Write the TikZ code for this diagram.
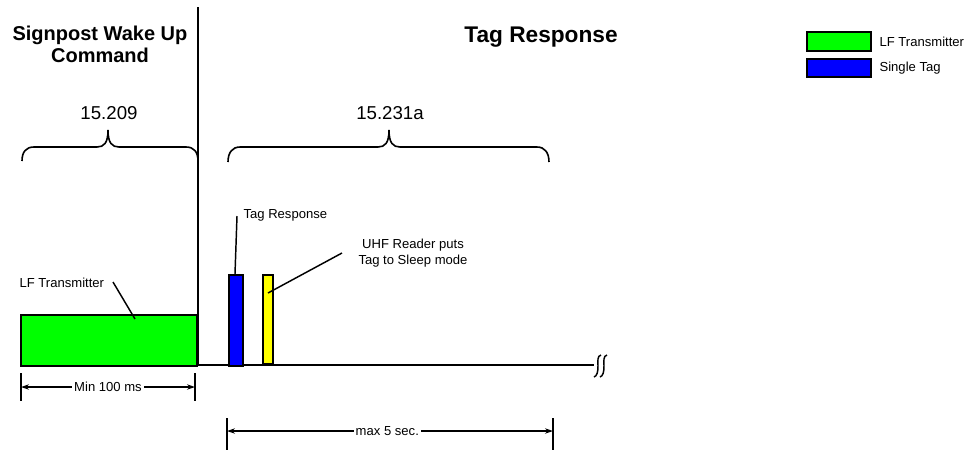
\documentclass[tikz,border=0pt]{standalone}
\usepackage{fontspec}
\setmainfont{Liberation Sans}
\usetikzlibrary{arrows.meta,fit}
\begin{document}
\begin{tikzpicture}[x=0.75pt,y=-0.75pt,
  heavy/.style={line width=1.6pt},
  leader/.style={line width=1.1pt},
  lbl/.style={font=\fontsize{9.8}{12.5}\selectfont, inner sep=1pt, align=center},
  numlbl/.style={font=\fontsize{14}{16}\selectfont, inner sep=0pt},
  bracestyle/.style={line width=1.2pt},
  dimline/.style={line width=1.1pt, {Stealth[length=6pt,width=4pt]}-{Stealth[length=6pt,width=4pt]}},
  barbox/.style={draw, line width=1.6pt, inner sep=0pt},
]
\useasboundingbox (0,0) rectangle (968,455);

% titles
\node[font=\bfseries\fontsize{15}{16.5}\selectfont, align=center] (t1) at (100,44) {Signpost Wake Up\\Command};
\node[font=\bfseries\fontsize{17}{19}\selectfont] (t2) at (541,37) {Tag Response};

% separator and axis
\coordinate (septop) at (198,7);
\coordinate (sepbot) at (198,365);
\coordinate (axend) at (594,365);
\draw[heavy] (septop) -- (sepbot);
\draw[heavy] (sepbot) -- (axend);
% break symbol
\draw[line width=1.1pt] (601,355) .. controls (597,356) and (598,361) .. (598,366) .. controls (598,372) and (597,376) .. (594,377);
\draw[line width=1.1pt] (607,355) .. controls (603,356) and (604,361) .. (604,366) .. controls (604,372) and (603,376) .. (600,377);

% braces
\coordinate (b1l) at (22,161);
\coordinate (b1t) at (108,130);
\coordinate (b1r) at (198,161);
\draw[bracestyle] (b1l) .. controls (22,152) and (26,147) .. (34,147) -- (97,147)
  .. controls (104,147) and (108,143) .. (b1t)
  .. controls (108,143) and (112,147) .. (119,147) -- (186,147)
  .. controls (194,147) and (198,152) .. (b1r);
\coordinate (b2l) at (228,162);
\coordinate (b2t) at (389,130);
\coordinate (b2r) at (549,162);
\draw[bracestyle] (b2l) .. controls (228,153) and (232,147) .. (240,147) -- (378,147)
  .. controls (385,147) and (389,143) .. (b2t)
  .. controls (389,143) and (393,147) .. (400,147) -- (537,147)
  .. controls (545,147) and (549,153) .. (b2r);
\node[numlbl] (n1) at (109,113) {15.209};
\node[numlbl] (n2) at (390,113) {15.231a};

% green LF box
\coordinate (g1) at (21,315);
\coordinate (g2) at (197,366);
\node[barbox, fill={rgb,255:red,0;green,255;blue,0}, fit=(g1)(g2)] (lfbox) {};
% blue and yellow bars
\coordinate (bl1) at (229,275);
\coordinate (bl2) at (243,366);
\node[barbox, fill={rgb,255:red,0;green,0;blue,255}, fit=(bl1)(bl2)] (tagbar) {};
\coordinate (y1) at (263,275);
\coordinate (y2) at (273,364);
\node[barbox, fill={rgb,255:red,255;green,255;blue,0}, fit=(y1)(y2)] (sleepbar) {};

% labels with leaders
\node[lbl, anchor=west] (lflbl) at (18,283) {LF Transmitter};
\coordinate (lfp) at (135,319);
\draw[leader] (113,282) -- (lfp);

\node[lbl, anchor=west] (taglbl) at (242,215) {Tag Response};
\draw[leader] (237,216) -- (tagbar.north -| 235,0);

\node[lbl] (uhflbl) at (413,253) {UHF Reader puts\\Tag to Sleep mode};
\coordinate (sleepp) at (268,293);
\draw[leader] (342,253) -- (sleepp);

% dimension Min 100 ms
\coordinate (m1t) at (21,373);
\coordinate (m1b) at (21,401);
\coordinate (m2t) at (195,373);
\coordinate (m2b) at (195,401);
\draw[heavy] (m1t) -- (m1b);
\draw[heavy] (m2t) -- (m2b);
\coordinate (m1) at (21,387);
\coordinate (m2) at (195,387);
\draw[dimline] (m1) -- node[lbl, fill=white, inner sep=1.5pt] (minlbl) {Min 100 ms} (m2);

% dimension max 5 sec
\coordinate (s1t) at (227,418);
\coordinate (s1b) at (227,450);
\coordinate (s2t) at (553,418);
\coordinate (s2b) at (553,450);
\draw[heavy] (s1t) -- (s1b);
\draw[heavy] (s2t) -- (s2b);
\coordinate (s1) at (227,431);
\coordinate (s2) at (553,431);
\draw[dimline] (s1) -- node[lbl, fill=white, inner sep=1.5pt, xshift=-2pt] (maxlbl) {max 5 sec.} (s2);

% legend
\coordinate (lg1a) at (807,32);
\coordinate (lg1b) at (871,51);
\node[barbox, line width=1.3pt, fill={rgb,255:red,0;green,255;blue,0}, fit=(lg1a)(lg1b)] (leg1) {};
\coordinate (lg2a) at (807,59);
\coordinate (lg2b) at (871,77);
\node[barbox, line width=1.3pt, fill={rgb,255:red,0;green,0;blue,255}, fit=(lg2a)(lg2b)] (leg2) {};
\node[lbl, anchor=west] (leg1lbl) at (878,42) {LF Transmitter};
\node[lbl, anchor=west] (leg2lbl) at (878,68) {Single Tag};
\end{tikzpicture}
\end{document}
